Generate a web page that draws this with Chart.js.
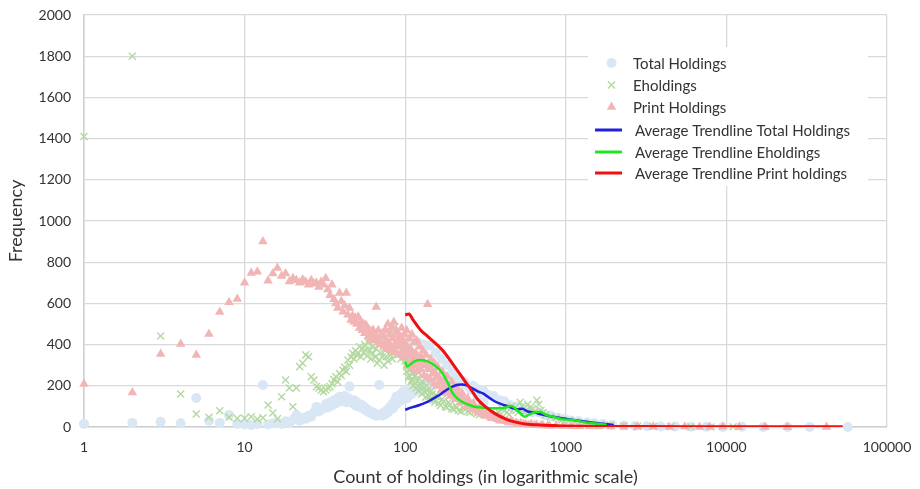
<!DOCTYPE html>
<html><head><meta charset="utf-8">
<script src="https://cdn.jsdelivr.net/npm/chart.js@4.4.1/dist/chart.umd.min.js"></script>
<style>html,body{margin:0;padding:0;background:#fff}canvas{display:block}</style>
</head><body>
<canvas id="c" width="920" height="489"></canvas>
<script>
// ---------- DATA ----------
const X_TICKS = [1, 10, 100, 1000, 10000, 100000];
const Y_MIN = 0, Y_MAX = 2000, Y_STEP = 200;
const X_TITLE = 'Count of holdings (in logarithmic scale)';
const Y_TITLE = 'Frequency';
const SERIES_NAMES = ['Total Holdings', 'Eholdings', 'Print Holdings',
  'Average Trendline Total Holdings', 'Average Trendline Eholdings', 'Average Trendline Print holdings'];

// counts 1..100
const COUNTS = [1,2,3,4,5,6,7,8,9,10,11,12,13,14,15,16,17,18,19,20,
  21,22,23,24,25,26,27,28,29,30,31,32,33,34,35,36,37,38,39,40,
  41,42,43,44,45,46,47,48,49,50,51,52,53,54,55,56,57,58,59,60,
  61,62,63,64,65,66,67,68,69,70,71,72,73,74,75,76,77,78,79,80,
  81,82,83,84,85,86,87,88,89,90,91,92,93,94,95,96,97,98,99,100];

const TOTAL_LOW = [15,20,25,18,141,30,20,58,15,12, 10,15,204,12,18,22,15,28,20,35,
  58,30,45,40,55,50,70,98,75,85, 90,110,95,120,105,130,115,140,147,125,
  130,150,120,140,196,125,115,130,105,120, 100,110,95,105,98,85,90,75,80,70,
  75,65,70,60,65,55,60,58,204,58, 62,55,68,60,75,65,80,70,90,85,
  100,95,110,90,120,105,130,147,115,135, 125,150,140,160,130,155,170,145,180,150];
const E_LOW = [1410,1800,442,160,63,47,79,47,42,42, 50,38,45,107,68,40,147,228,189,98,
  189,293,310,350,341,244,228,196,189,180, 171,180,190,196,210,230,244,220,260,250,
  277,290,270,325,300,340,358,330,370,350, 360,390,340,380,360,400,374,345,410,370,
  330,390,358,420,340,380,310,400,325,360, 420,340,390,300,370,341,410,320,471,380,
  350,430,330,400,450,487,380,420,350,406, 440,360,400,330,430,370,410,340,380,320];
const PRINT_LOW = [209,167,354,403,350,451,558,606,621,700, 748,754,900,710,745,772,733,745,706,722,
  712,700,716,705,690,712,695,700,680,705, 690,722,668,640,690,620,600,578,650,610,
  560,590,650,545,578,520,540,510,530,500, 535,480,510,470,500,455,495,480,440,470,
  430,460,471,420,450,582,430,470,410,440, 400,455,438,390,470,420,380,500,410,450,
  390,480,370,430,510,400,360,470,420,390, 450,350,430,400,480,370,420,340,450,400];

const TOTAL_HIGH_X = [103,106,110,114,118,122,127,132,138,145,152,160,170,180,192,205,218,232,248,265,
  285,305,330,355,385,415,450,490,530,575,620,680,740,810,890,980,1080,1200,1350,1500,
  1700,1950,2300,2700,3200,3900,4800,6000,7500,9500,12500,17000,24000,33000,57000,
  104,112,120,130,142,155,168,182,198,215,235,258,282,308];
const TOTAL_HIGH_Y = [140,170,160,190,175,200,185,210,195,220,205,230,215,240,220,230,210,220,195,200,
  175,180,155,150,130,125,105,100,85,85,70,70,58,55,45,40,32,28,22,18,
  14,10,7,5,4,3,2,1,1,0,1,0,0,0,0,
  400,420,410,400,395,360,330,300,270,240,210,180,150,120];

const E_HIGH_X = [103,106,108,110,113,116,120,124,128,132,136,140,145,150,156,162,170,178,186,195,
  205,215,230,245,260,280,300,320,345,370,400,430,460,490,520,550,580,620,660,700,
  750,800,870,950,1050,1150,1300,1450,1650,1900,2300,2800,3500,4500,6000,8000,11000];
const E_HIGH_Y = [290,250,300,230,270,210,240,190,220,170,200,150,175,130,155,115,135,100,120,90,
  105,80,95,75,85,65,80,60,75,65,90,70,100,80,120,70,110,90,130,80,
  60,50,45,35,30,25,20,15,12,8,5,3,2,1,1,0,1];
const E_BAND_X = [101,102,104,105,107,109,111,112,114,117,119,121,125,127,130,134,138,142,147,153,
  159,166,174,182,190,200,210,222,237,252,270,290,310,335,360,385,415,445,475,505,
  535,565,600,640,680,720];
const E_BAND_Y = [330,270,310,240,280,220,260,200,245,190,225,175,205,160,190,145,175,135,160,120,
  145,105,125,95,110,85,95,75,85,70,75,60,70,55,60,70,80,60,90,70,
  100,80,95,75,110,70];

const PRINT_HIGH_X = [102,104,106,108,110,112,114,116,118,120,123,126,129,132,135,138,141,144,148,152,
  156,160,165,170,176,182,188,195,202,210,218,226,235,245,255,266,278,290,305,320,
  338,356,375,400,425,455,490,525,565,610,660,720,790,870,960,1080,1220,1400,1600,1900,
  2300,2800,3500,4400,5500,6800,7900,9500,12000,17400,24000,42000];
const PRINT_HIGH_Y = [470,350,430,380,450,330,410,360,420,310,390,340,370,300,350,596,280,330,260,310,
  240,290,220,270,200,245,180,220,160,190,140,165,120,140,100,115,85,95,65,75,
  50,55,38,40,28,30,20,20,14,14,10,9,7,6,5,4,3,3,2,2,
  1,1,1,0,1,0,0,1,0,0,0,0];
const PRINT_BAND_X = [101,103,105,107,109,111,113,115,117,119,122,125,128,131,134,137,140,143,147,151,
  155,159,163,168,173,179,185,192,199,206,214,222,231,240,250,260,272,284,297,312,
  328,346,366,388,412,440,470,505,545,590,640,700,770];
const PRINT_BAND_Y = [400,300,380,320,360,280,350,300,340,270,330,280,310,250,300,240,290,230,280,210,
  260,200,240,180,220,165,200,150,180,135,160,120,140,100,120,85,100,70,80,55,
  60,42,45,30,32,22,22,15,15,10,10,7,6];

const TREND_TOTAL_X = [100,110,123,139,150,165,181,195,213,235,252,285,305,360,400,440,470,500,540,580,640,690,835,1110,1480,1990];
const TREND_TOTAL_Y = [84,95,107,123,139,158,180,195,205,205,195,172,163,125,110,100,91,86,88,75,70,63,50,34,21,10];
const TREND_E_X = [100,103,108,115,125,139,155,168,185,198,212,225,245,271,310,360,410,460,500,530,555,590,630,690,730,760,835,960,1110,1350,1630,1800];
const TREND_E_Y = [317,293,305,320,325,317,295,268,212,163,138,123,110,98,94,91,92,102,80,62,50,60,69,74,65,58,50,37,34,21,15,10];
const TREND_P_X = [100,106,112,125,139,160,177,200,225,250,285,320,360,420,480,560,690,850,1000,1500,3000,10000,53000];
const TREND_P_Y = [544,548,520,470,438,395,358,300,244,195,131,95,66,40,25,15,10,7,5,3,2,1,1];

// ---------- BUILD ----------
function pts(xs, ys) { return xs.map((x, i) => ({x: x, y: ys[i]})); }
const FONT = 'Lato';
const TXT = '#333333';
const C_TOTAL = '#d9e7f5', C_E = '#b3d9a0', C_P = '#f2b5b5';
const C_LT = '#2020dd', C_LE = '#22e622', C_LP = '#f01010';

const datasets = [
  {label: SERIES_NAMES[0], data: pts(COUNTS, TOTAL_LOW).concat(pts(TOTAL_HIGH_X, TOTAL_HIGH_Y)),
   pointStyle: 'circle', pointRadius: 5, backgroundColor: C_TOTAL, borderColor: C_TOTAL, borderWidth: 0, order: 6, clip: false},
  {label: SERIES_NAMES[1], data: pts(COUNTS, E_LOW).concat(pts(E_HIGH_X, E_HIGH_Y), pts(E_BAND_X, E_BAND_Y)),
   pointStyle: 'crossRot', pointRadius: 5, backgroundColor: C_E, borderColor: C_E, borderWidth: 1.4, order: 5, clip: false},
  {label: SERIES_NAMES[2], data: pts(COUNTS, PRINT_LOW).concat(pts(PRINT_HIGH_X, PRINT_HIGH_Y), pts(PRINT_BAND_X, PRINT_BAND_Y)),
   pointStyle: 'triangle', pointRadius: 5.5, backgroundColor: C_P, borderColor: C_P, borderWidth: 0, order: 4, clip: false},
  {type: 'line', label: SERIES_NAMES[3], data: pts(TREND_TOTAL_X, TREND_TOTAL_Y), showLine: true,
   borderColor: C_LT, backgroundColor: C_LT, borderWidth: 2.5, pointRadius: 0, tension: 0.3, order: 3, fill: false},
  {type: 'line', label: SERIES_NAMES[4], data: pts(TREND_E_X, TREND_E_Y), showLine: true,
   borderColor: C_LE, backgroundColor: C_LE, borderWidth: 2.5, pointRadius: 0, tension: 0.3, order: 2, fill: false},
  {type: 'line', label: SERIES_NAMES[5], data: pts(TREND_P_X, TREND_P_Y), showLine: true,
   borderColor: C_LP, backgroundColor: C_LP, borderWidth: 3, pointRadius: 0, tension: 0.3, order: 1, fill: false}
];

const legendPlugin = {
  id: 'customLegend',
  afterDraw(chart) {
    const ctx = chart.ctx;
    ctx.save();
    ctx.fillStyle = '#ffffff';
    ctx.fillRect(588, 47, 280, 139);
    ctx.font = '15px ' + FONT;
    ctx.fillStyle = TXT;
    ctx.textBaseline = 'middle';
    ctx.textAlign = 'left';
    const rowsY = [63, 85, 107, 130, 152, 173];
    const ds = chart.data.datasets;
    for (let i = 0; i < 3; i++) {
      const d = ds[i];
      const opts = {pointStyle: d.pointStyle, radius: d.pointRadius, borderWidth: d.borderWidth, rotation: 0};
      ctx.save();
      ctx.fillStyle = d.backgroundColor; ctx.strokeStyle = d.borderColor; ctx.lineWidth = d.borderWidth;
      Chart.helpers.drawPoint(ctx, opts, 611.5, rowsY[i]);
      ctx.restore();
      ctx.fillText(d.label, 633, rowsY[i] + 1);
    }
    for (let i = 3; i < 6; i++) {
      const d = ds[i];
      ctx.save();
      ctx.strokeStyle = d.borderColor; ctx.lineWidth = 3;
      ctx.beginPath(); ctx.moveTo(595, rowsY[i]); ctx.lineTo(622, rowsY[i]); ctx.stroke();
      ctx.restore();
      ctx.fillText(d.label, 635, rowsY[i] + 1);
    }
    ctx.restore();
  }
};

new Chart(document.getElementById('c'), {
  type: 'scatter',
  data: {datasets: datasets},
  plugins: [legendPlugin],
  options: {
    responsive: false,
    animation: false,
    devicePixelRatio: 1,
    layout: {padding: {left: 0, right: 33, top: 15, bottom: 0}},
    plugins: {legend: {display: false}, tooltip: {enabled: false}},
    scales: {
      x: {
        type: 'logarithmic', min: X_TICKS[0], max: X_TICKS[X_TICKS.length - 1],
        afterBuildTicks: (s) => { s.ticks = X_TICKS.map(v => ({value: v})); },
        afterFit: (s) => { s.height = 62; s.paddingLeft = 0; s.paddingRight = 0; },
        ticks: {callback: (v) => String(v), font: {family: FONT, size: 14}, color: TXT, padding: 12,
          maxRotation: 0, autoSkip: false},
        grid: {color: '#d9d9d9', lineWidth: 1.3, drawTicks: false},
        border: {color: '#cfcfcf', width: 1.5},
        title: {display: true, text: X_TITLE, font: {family: FONT, size: 18}, color: TXT, padding: {top: 0, bottom: 1}}
      },
      y: {
        min: Y_MIN, max: Y_MAX,
        afterFit: (s) => { s.width = 84; s.paddingTop = 0; s.paddingBottom = 0; },
        ticks: {stepSize: Y_STEP, callback: (v) => String(v), font: {family: FONT, size: 14}, color: TXT, padding: 13},
        grid: {color: '#d9d9d9', lineWidth: 1.3, drawTicks: false},
        border: {color: '#cfcfcf', width: 1.5},
        title: {display: true, text: Y_TITLE, font: {family: FONT, size: 18}, color: TXT, padding: {top: 5, bottom: 0}}
      }
    }
  }
});
</script>
</body></html>
